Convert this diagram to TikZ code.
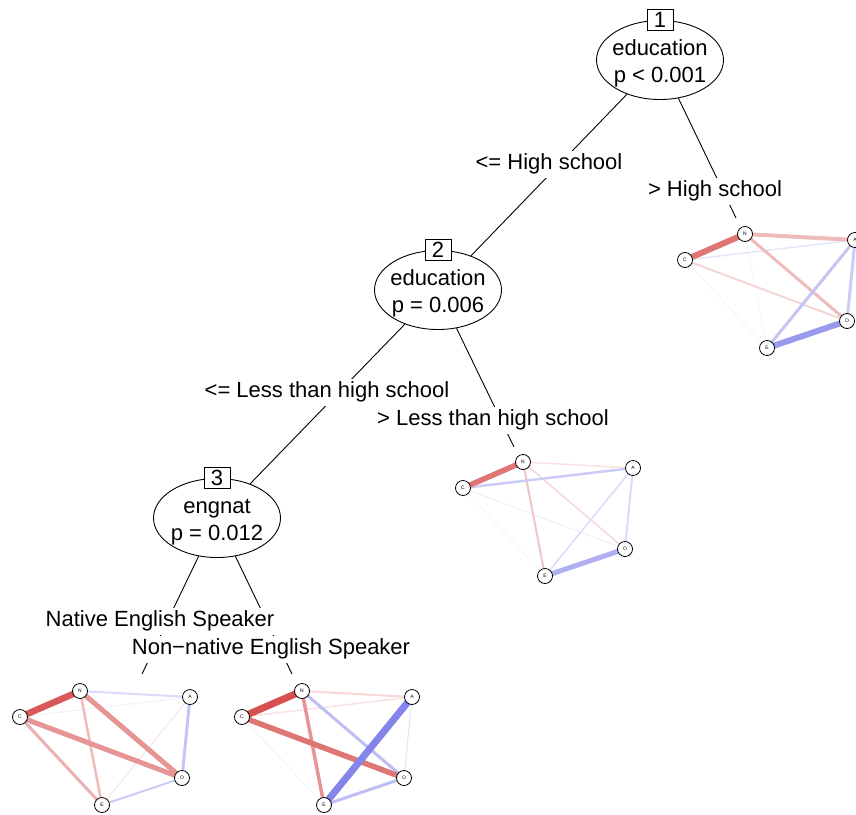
\documentclass[tikz,border=0pt]{standalone}
\usepackage{fontspec}
\setmainfont{Liberation Sans}
\usepackage{xcolor}
\definecolor{netred}{RGB}{210,60,60}
\definecolor{netblue}{RGB}{110,110,230}
\usepackage{tikz}
\usetikzlibrary{shapes.geometric,positioning,calc,backgrounds}
\tikzset{
  tr_split/.style={ellipse,draw=black,line width=0.9pt,fill=white,
    minimum width=127pt,minimum height=79pt,
    inner xsep=-6pt,inner ysep=0pt,align=center,
    font=\fontsize{22}{27}\selectfont},
  tr_id/.style={rectangle,draw=black,line width=0.9pt,fill=white,
    minimum width=26pt,minimum height=21pt,inner sep=1pt,
    font=\fontsize{22}{26}\selectfont},
  tr_lab/.style={fill=white,inner xsep=2pt,inner ysep=3pt,
    text height=16pt,text depth=5pt,
    font=\fontsize{22}{26}\selectfont},
  tr_line/.style={draw=black,line width=0.9pt},
  nw_vert/.style={circle,draw=black,line width=0.8pt,fill=white,
    minimum size=15pt,inner sep=0pt,
    font=\fontsize{5}{6}\selectfont},
  nw_edge/.style={shorten <=-3pt,shorten >=-3pt},
}
% five vertices of one terminal network, placed from N
\newcommand{\netfive}[3]{%
  \node (#1_N) [nw_vert] at (#2,#3) {N};
  \node (#1_C) [nw_vert] at (#2-60,#3+26) {C};
  \node (#1_A) [nw_vert] at (#2+110,#3+6) {A};
  \node (#1_O) [nw_vert] at (#2+102,#3+87) {O};
  \node (#1_E) [nw_vert] at (#2+22,#3+114) {E};
}
\newcommand{\topline}{\rule{0pt}{22pt}}

\begin{document}
\begin{tikzpicture}[x=1pt,y=-1pt]
  \useasboundingbox (0,0) rectangle (856,814);
  % inner splits
  \node (n1) [tr_split] at (660,60) {\topline education\\p < 0.001};
  \node (id1) [tr_id] at ([yshift=0.5pt]n1.north) {1};
  \node (n2) [tr_split] at (438,290) {\topline education\\p = 0.006};
  \node (id2) [tr_id] at ([yshift=0.5pt]n2.north) {2};
  \node (n3) [tr_split] at (217,518) {\topline engnat\\p = 0.012};
  \node (id3) [tr_id] at ([yshift=0.5pt]n3.north) {3};
  % terminal networks
  \netfive{t4}{80}{691}
  \netfive{t5}{302}{691}
  \netfive{t6}{523}{462}
  \netfive{t7}{745}{234}
  \coordinate (t4_top) at (142,674);
  \coordinate (t5_top) at (292,674);
  \coordinate (t6_top) at (514,447);
  \coordinate (t7_top) at (736,218);
  % split labels
  \node (l12) [tr_lab] at (549,164) {<= High school};
  \node (l17) [tr_lab] at (715,191) {> High school};
  \node (l23) [tr_lab] at (327,392) {<= Less than high school};
  \node (l26) [tr_lab] at (493,420) {> Less than high school};
  \node (l34) [tr_lab] at (160,621) {Native English Speaker};
  \node (l35) [tr_lab] at (271,649) {Non−native English Speaker};

  \begin{scope}[on background layer]
    \draw[tr_line] (n1) -- (n2);
    \draw[tr_line] (n1) -- (t7_top);
    \draw[tr_line] (n2) -- (n3);
    \draw[tr_line] (n2) -- (t6_top);
    \draw[tr_line] (n3) -- (t4_top);
    \draw[tr_line] (n3) -- (t5_top);
    % network edges, weakest first
    \foreach \u/\v/\c/\w in {A/E/netred!15/1, C/A/netblue!10/1,
        O/E/netblue!35/2, N/A/netblue!25/2, N/E/netred!35/2.5,
        C/E/netred!40/3, A/O/netblue!40/3, N/O/netred!55/5,
        C/O/netred!55/5, C/N/netred!85/6.5}
      \draw[nw_edge,draw=\c,line width=\w pt] (t4_\u) -- (t4_\v);
    \foreach \u/\v/\c/\w in {C/E/netblue!8/1, A/O/netblue!20/1,
        C/A/netred!15/1.5, N/A/netred!20/2, N/O/netblue!45/3,
        O/E/netblue!45/3, N/E/netred!55/3.5, C/O/netred!70/5.5,
        A/E/netblue!85/7, C/N/netred!90/7}
      \draw[nw_edge,draw=\c,line width=\w pt] (t5_\u) -- (t5_\v);
    \foreach \u/\v/\c/\w in {C/E/netred!6/1, C/O/netblue!12/1,
        N/A/netred!15/1.5, N/O/netred!20/1.5, A/E/netblue!25/1.5,
        A/O/netblue!25/2, N/E/netred!30/2, C/A/netblue!35/2.5,
        O/E/netblue!55/5, C/N/netred!70/5.5}
      \draw[nw_edge,draw=\c,line width=\w pt] (t6_\u) -- (t6_\v);
    \foreach \u/\v/\c/\w in {C/E/netred!6/1, N/E/netblue!6/1,
        C/A/netblue!18/1.5, C/O/netred!22/2, N/O/netred!35/3,
        A/O/netblue!35/3, A/E/netblue!40/3, N/A/netred!35/4,
        O/E/netblue!70/6, C/N/netred!70/6}
      \draw[nw_edge,draw=\c,line width=\w pt] (t7_\u) -- (t7_\v);
  \end{scope}
\end{tikzpicture}
\end{document}
